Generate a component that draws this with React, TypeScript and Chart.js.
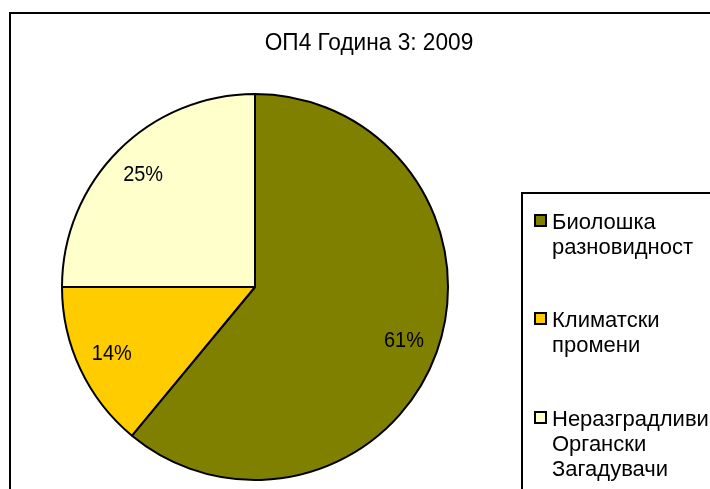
import React, { useEffect, useRef } from "react";
import { Chart, registerables } from "chart.js";

Chart.register(...registerables);

const titleText = "ОП4 Година 3: 2009";
const categories = ["Биолошка разновидност", "Климатски промени", "Неразградливи Органски Загадувачи"];
const legendLines = [["Биолошка", "разновидност"], ["Климатски", "промени"], ["Неразградливи", "Органски", "Загадувачи"]];
const values = [61, 14, 25];
const colors = ["#808000", "#FFCC00", "#FFFFCC"];

const FONT = '"Liberation Sans", Arial, sans-serif';

const decorPlugin = {
  id: "decor",
  afterDatasetsDraw(chart: any) {
    const ctx = chart.ctx;
    const meta = chart.getDatasetMeta(0);
    const total = values.reduce((a, b) => a + b, 0);
    ctx.save();
    ctx.fillStyle = "#000";
    ctx.font = `21px ${FONT}`;
    ctx.textAlign = "center";
    ctx.textBaseline = "middle";
    meta.data.forEach((arc: any, i: number) => {
      const p = arc.getProps(["x", "y", "startAngle", "endAngle", "outerRadius"], true);
      const mid = (p.startAngle + p.endAngle) / 2;
      const r = p.outerRadius * 0.82;
      const tx = p.x + Math.cos(mid) * r;
      const ty = p.y + Math.sin(mid) * r;
      ctx.save();
      ctx.translate(tx, ty);
      ctx.scale(0.95, 1.05);
      ctx.fillText(Math.round((values[i] / total) * 100) + "%", 0, 0);
      ctx.restore();
    });
    ctx.restore();
  },
  afterDraw(chart: any) {
    const ctx = chart.ctx;
    ctx.save();
    // outer frame
    ctx.strokeStyle = "#000";
    ctx.lineWidth = 2;
    ctx.beginPath();
    ctx.moveTo(10, 500);
    ctx.lineTo(10, 13);
    ctx.lineTo(720, 13);
    ctx.stroke();
    // title
    ctx.fillStyle = "#000";
    ctx.font = `22px ${FONT}`;
    ctx.textAlign = "center";
    ctx.textBaseline = "alphabetic";
    ctx.save();
    ctx.translate(369, 50);
    ctx.scale(1.03, 1.05);
    ctx.fillText(titleText, 0, 0);
    ctx.restore();
    // legend box
    ctx.beginPath();
    ctx.moveTo(522, 500);
    ctx.lineTo(522, 193);
    ctx.lineTo(720, 193);
    ctx.stroke();
    // legend items
    const baselines = [229, 327, 426];
    ctx.font = `22px ${FONT}`;
    ctx.textAlign = "left";
    categories.forEach((_, i) => {
      const b = baselines[i];
      ctx.fillStyle = "#000";
      ctx.fillRect(534, b - 15, 13, 13);
      ctx.fillStyle = colors[i];
      ctx.fillRect(536, b - 13, 9, 9);
      ctx.fillStyle = "#000";
      legendLines[i].forEach((line, j) => {
        ctx.fillText(line, 552, b + j * 25);
      });
    });
    ctx.restore();
  },
};

export default function App() {
  const ref = useRef<HTMLCanvasElement>(null);
  useEffect(() => {
    if (!ref.current) return;
    const chart = new Chart(ref.current, {
      type: "pie",
      data: {
        labels: categories,
        datasets: [
          {
            data: values,
            backgroundColor: colors,
            borderColor: "#000",
            borderWidth: 2,
          },
        ],
      },
      options: {
        responsive: false,
        animation: false,
        devicePixelRatio: 1,
        layout: { padding: { left: 61, top: 93, right: 261, bottom: 8 } },
        plugins: {
          legend: { display: false },
          tooltip: { enabled: false },
          title: { display: false },
        },
      },
      plugins: [decorPlugin],
    });
    return () => chart.destroy();
  }, []);
  return (
    <div style={{ position: "absolute", left: 0, top: 0, width: 710, height: 489, background: "#fff" }}>
      <canvas ref={ref} width={710} height={489} />
    </div>
  );
}
